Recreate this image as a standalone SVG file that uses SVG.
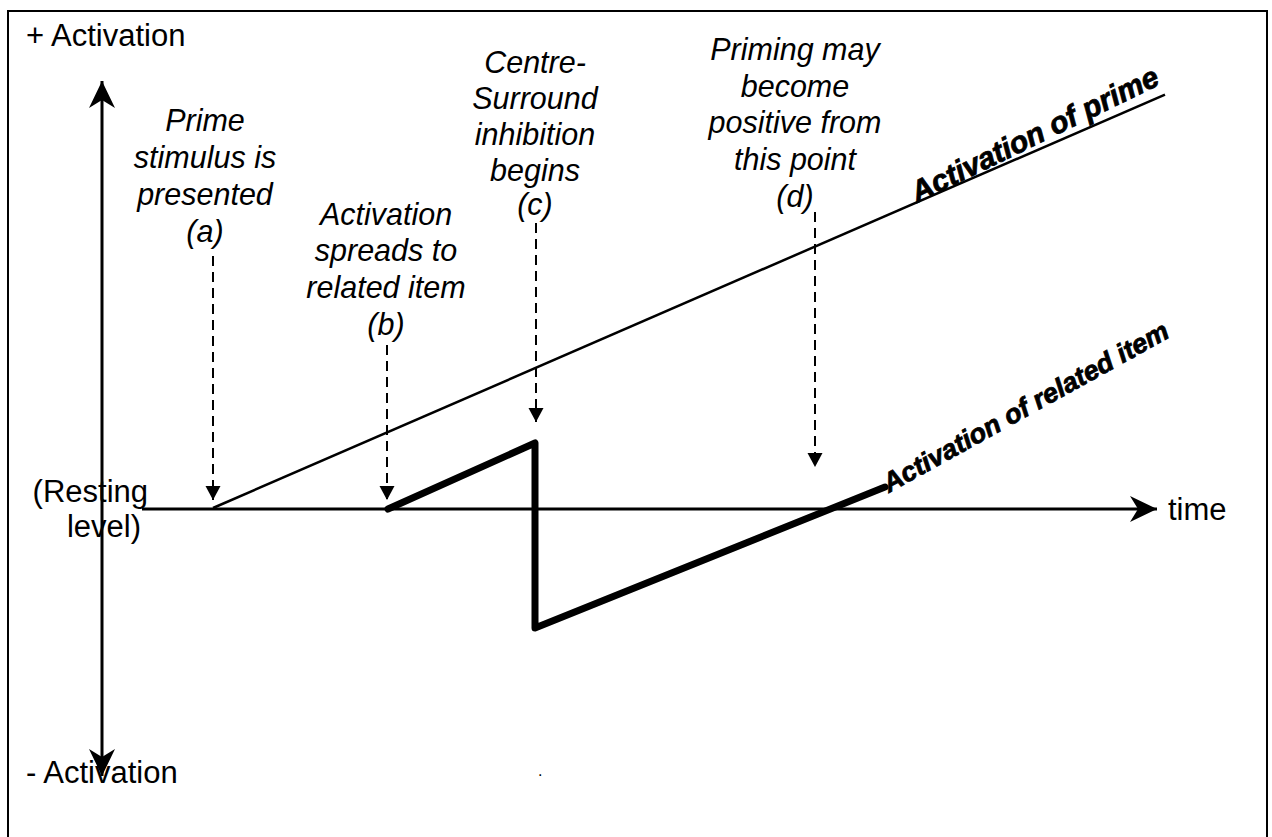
<svg xmlns="http://www.w3.org/2000/svg" width="1272" height="837" viewBox="0 0 1272 837">
<style>
.lbl{font-family:"Liberation Sans",Arial,sans-serif;font-size:31px;fill:#000}
.it{font-family:"Liberation Sans",Arial,sans-serif;font-size:30.5px;font-style:italic;fill:#000;text-anchor:middle}
.curve{font-family:"Liberation Sans",Arial,sans-serif;font-size:30px;font-style:italic;font-weight:bold;fill:#000;stroke:#000;stroke-width:0.8}
.axis{stroke:#000;stroke-width:3;fill:none}
.dash{stroke:#000;stroke-width:2;stroke-dasharray:10,6;fill:none}
</style>
<defs>
<marker id="big" viewBox="-30 -16 32 32" markerWidth="32" markerHeight="32" refX="0" refY="0" orient="auto-start-reverse" markerUnits="userSpaceOnUse">
<path d="M0,0 L-27,-13 L-19,0 L-27,13 Z" fill="#000"/>
</marker>
<marker id="small" viewBox="-16 -9 18 18" markerWidth="18" markerHeight="18" refX="0" refY="0" orient="auto" markerUnits="userSpaceOnUse">
<path d="M0,0 L-14,-7.5 L-14,7.5 Z" fill="#000"/>
</marker>
</defs>
<rect x="0" y="0" width="1272" height="837" fill="#fff"/>
<rect id="frame" x="8" y="11" width="1259" height="840" fill="none" stroke="#000" stroke-width="2"/>

<g id="connectors">
<line class="axis" x1="102" y1="81" x2="102" y2="776" marker-start="url(#big)" marker-end="url(#big)"/>
<line class="axis" x1="142" y1="509" x2="1157" y2="509" marker-end="url(#big)"/>
<line class="dash" x1="213" y1="256" x2="213" y2="500" marker-end="url(#small)"/>
<line class="dash" x1="387" y1="345" x2="387" y2="500" marker-end="url(#small)"/>
<line class="dash" x1="536" y1="223" x2="536" y2="422" marker-end="url(#small)"/>
<line class="dash" x1="815" y1="212" x2="815" y2="467" marker-end="url(#small)"/>
</g>

<g id="axis-labels">
<text class="lbl" x="26" y="46">+ Activation</text>
<text class="lbl" x="26" y="783">- Activation</text>
<text class="lbl" x="148" y="502" text-anchor="end">(Resting</text>
<text class="lbl" x="141" y="537" text-anchor="end">level)</text>
<text class="lbl" x="1168" y="520">time</text>
<text class="lbl" x="538" y="776" style="font-size:16px">.</text>
</g>

<g id="prime-curve">
<line x1="213" y1="508" x2="1165" y2="94.6" stroke="#000" stroke-width="2.5"/>
<text class="curve" transform="translate(917,203) rotate(-26)">Activation of prime</text>
</g>

<g id="related-curve">
<polyline points="388,509 535,443 535,628 885,487" fill="none" stroke="#000" stroke-width="7" stroke-linejoin="round" stroke-linecap="round"/>
<text class="curve" transform="translate(889,493) rotate(-29)" style="font-size:27px">Activation of related item</text>
</g>

<g id="note-a">
<text class="it" x="205" y="131">Prime</text>
<text class="it" x="205" y="168">stimulus is</text>
<text class="it" x="205" y="205">presented</text>
<text class="it" x="205" y="242">(a)</text>
</g>
<g id="note-b">
<text class="it" x="386" y="225">Activation</text>
<text class="it" x="386" y="261">spreads to</text>
<text class="it" x="386" y="298">related item</text>
<text class="it" x="386" y="335">(b)</text>
</g>
<g id="note-c">
<text class="it" x="535" y="73">Centre-</text>
<text class="it" x="535" y="109">Surround</text>
<text class="it" x="535" y="145">inhibition</text>
<text class="it" x="535" y="181">begins</text>
<text class="it" x="535" y="215">(c)</text>
</g>
<g id="note-d">
<text class="it" x="795" y="60">Priming may</text>
<text class="it" x="795" y="97">become</text>
<text class="it" x="795" y="133">positive from</text>
<text class="it" x="795" y="170">this point</text>
<text class="it" x="795" y="207">(d)</text>
</g>
</svg>
